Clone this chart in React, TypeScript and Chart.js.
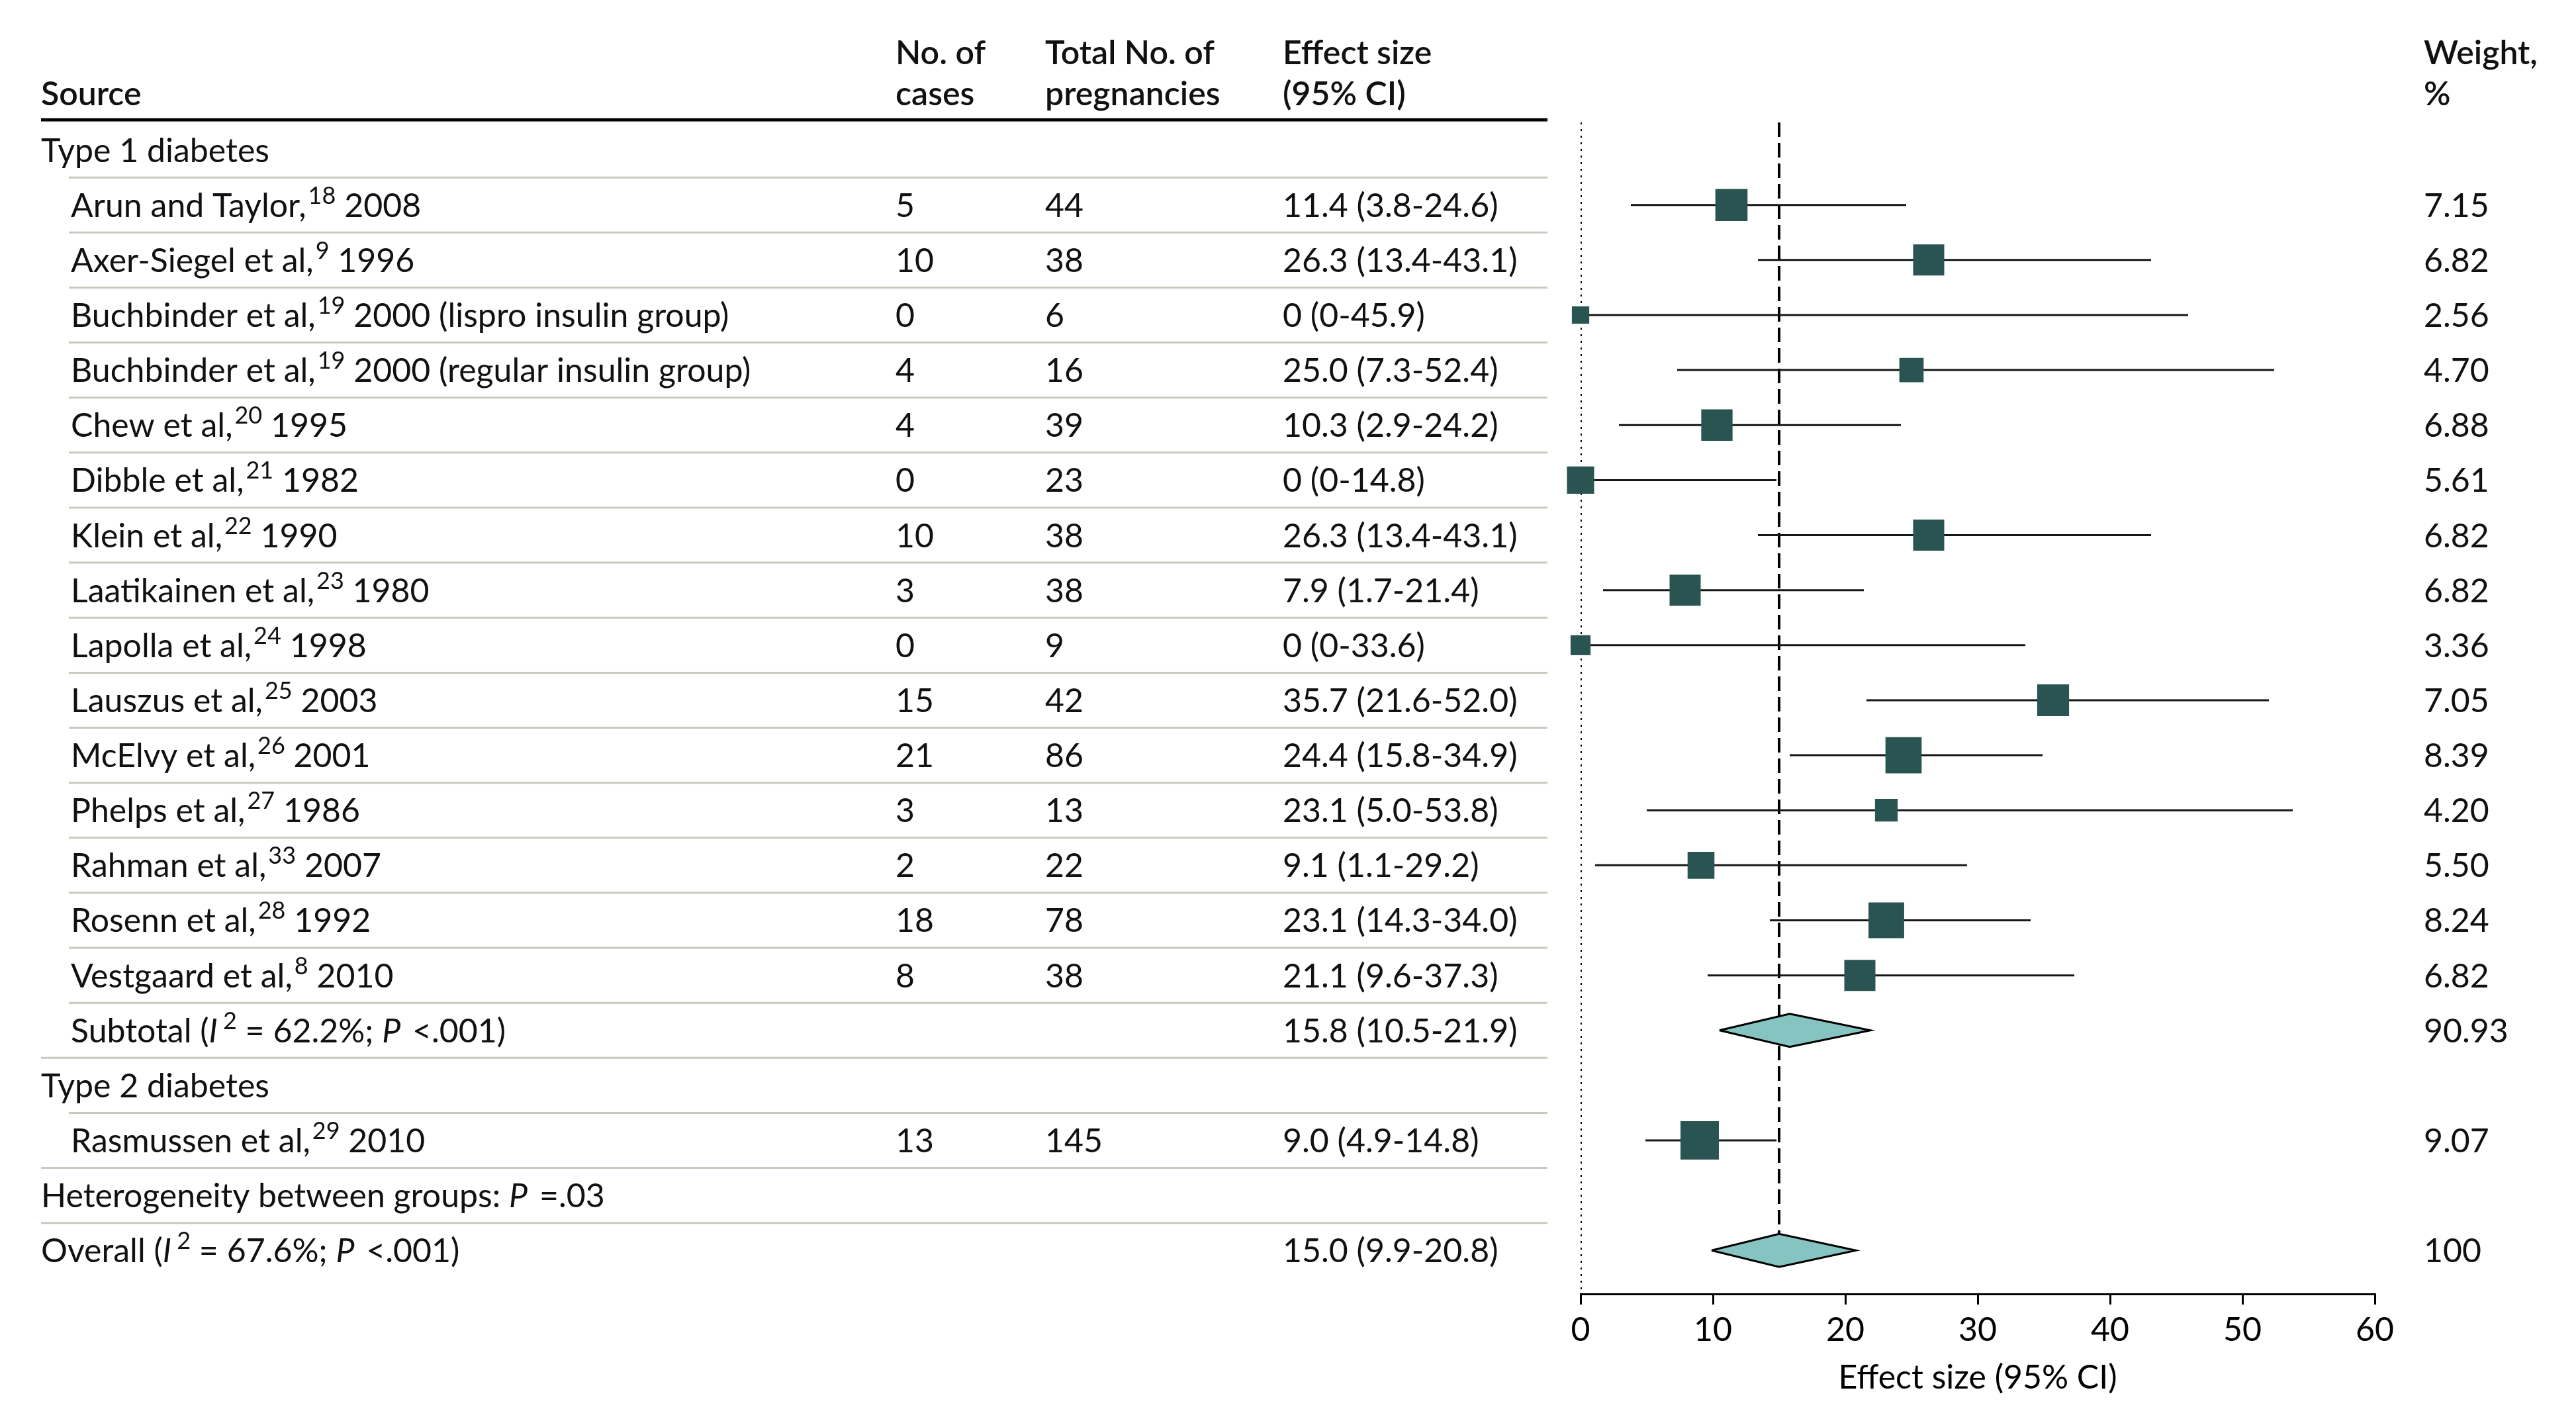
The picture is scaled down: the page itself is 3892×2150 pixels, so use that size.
import React, { useEffect, useRef } from "react";
import { Chart, registerables } from "chart.js";

Chart.register(...registerables);

// ---------------- data ----------------
const studyNames = [
  "Arun and Taylor", "Axer-Siegel et al", "Buchbinder et al", "Buchbinder et al",
  "Chew et al", "Dibble et al", "Klein et al", "Laatikainen et al", "Lapolla et al",
  "Lauszus et al", "McElvy et al", "Phelps et al", "Rahman et al", "Rosenn et al",
  "Vestgaard et al", "Rasmussen et al",
];
const studyRefs = ["18", "9", "19", "19", "20", "21", "22", "23", "24", "25", "26", "27", "33", "28", "8", "29"];
const studyYears = [
  "2008", "1996", "2000 (lispro insulin group)", "2000 (regular insulin group)",
  "1995", "1982", "1990", "1980", "1998", "2003", "2001", "1986", "2007", "1992", "2010", "2010",
];
const studyGroups = [0, 0, 0, 0, 0, 0, 0, 0, 0, 0, 0, 0, 0, 0, 0, 1];
const studyCases = [5, 10, 0, 4, 4, 0, 10, 3, 0, 15, 21, 3, 2, 18, 8, 13];
const studyTotals = [44, 38, 6, 16, 39, 23, 38, 38, 9, 42, 86, 13, 22, 78, 38, 145];
const studyEffects = [11.4, 26.3, 0, 25.0, 10.3, 0, 26.3, 7.9, 0, 35.7, 24.4, 23.1, 9.1, 23.1, 21.1, 9.0];
const studyLower = [3.8, 13.4, 0, 7.3, 2.9, 0, 13.4, 1.7, 0, 21.6, 15.8, 5.0, 1.1, 14.3, 9.6, 4.9];
const studyUpper = [24.6, 43.1, 45.9, 52.4, 24.2, 14.8, 43.1, 21.4, 33.6, 52.0, 34.9, 53.8, 29.2, 34.0, 37.3, 14.8];
const studyWeights = [7.15, 6.82, 2.56, 4.70, 6.88, 5.61, 6.82, 6.82, 3.36, 7.05, 8.39, 4.20, 5.50, 8.24, 6.82, 9.07];

const groupLabels = ["Type 1 diabetes", "Type 2 diabetes"];
const subtotalEffects = [15.8];
const subtotalLower = [10.5];
const subtotalUpper = [21.9];
const subtotalWeights = ["90.93"];
const subtotalI2 = ["62.2%"];
const subtotalP = ["<.001"];

const heterogeneityP = "=.03";
const overallEffect = 15.0;
const overallLower = 9.9;
const overallUpper = 20.8;
const overallWeight = "100";
const overallI2 = "67.6%";
const overallP = "<.001";

const xTicks = [0, 10, 20, 30, 40, 50, 60];
const xTitle = "Effect size (95% CI)";
const headerLabels = [
  ["", "Source"],
  ["No. of", "cases"],
  ["Total No. of", "pregnancies"],
  ["Effect size", "(95% CI)"],
  ["Weight,", "%"],
];

// ---------------- style / layout ----------------
const W = 3892;
const H = 2150;
const FONT = "Lato";
const FS = 50;
const SUP_FS = 36;
const SUP_RAISE = 20;
const TEXT = "#111111";
const SQUARE = "#2a5452";
const DIAMOND = "#86c4c1";
const SEP = "#c6cbbd";
const COL_X = [62, 1353, 1579, 1938, 3662];
const INDENT_X = 107;
const TABLE_RIGHT = 2338;
const DIAMOND_H = 0.3;

type Seg = { t: string; sup?: boolean; it?: boolean };
type Row =
  | { kind: "group"; g: number }
  | { kind: "study"; s: number }
  | { kind: "subtotal"; g: number }
  | { kind: "het" }
  | { kind: "overall" };

const fmt = (v: number) => (v === 0 ? "0" : v.toFixed(1));
const ci = (e: number, l: number, u: number) => `${fmt(e)} (${fmt(l)}-${fmt(u)})`;

// build row list
const rows: Row[] = [];
groupLabels.forEach((_, g) => {
  rows.push({ kind: "group", g });
  const members = studyGroups.map((gg, i) => (gg === g ? i : -1)).filter((i) => i >= 0);
  members.forEach((s) => rows.push({ kind: "study", s }));
  if (members.length > 1) rows.push({ kind: "subtotal", g });
});
rows.push({ kind: "het" });
rows.push({ kind: "overall" });

const studyRow = (s: number) => rows.findIndex((r) => r.kind === "study" && (r as any).s === s);
const subtotalRow = (g: number) => rows.findIndex((r) => r.kind === "subtotal" && (r as any).g === g);
const overallRow = rows.findIndex((r) => r.kind === "overall");

const Y_MIN = -0.5;
const Y_MAX = rows.length - 0.21;

function drawSegs(ctx: CanvasRenderingContext2D, segs: Seg[], x: number, y: number, weight = "normal") {
  let cx = x;
  for (const s of segs) {
    const size = s.sup ? SUP_FS : FS;
    ctx.font = `${s.it ? "italic " : ""}${weight} ${size}px ${FONT}`;
    if (s.sup) cx += 3;
    ctx.fillText(s.t, cx, s.sup ? y - SUP_RAISE : y);
    cx += ctx.measureText(s.t).width + (s.it ? 5 : 0);
  }
}

const tablePlugin = {
  id: "forestTable",
  afterDraw(chart: any) {
    const ctx: CanvasRenderingContext2D = chart.ctx;
    const ys = chart.scales.y;
    const base = (v: number) => ys.getPixelForValue(v) + 0.36 * FS;
    ctx.save();
    ctx.textAlign = "left";
    ctx.textBaseline = "alphabetic";
    ctx.fillStyle = TEXT;

    // header
    headerLabels.forEach((lines, c) => {
      lines.forEach((t, li) => {
        if (!t) return;
        ctx.font = `600 ${FS}px ${FONT}`;
        ctx.fillText(t, COL_X[c], (li === 0 ? 79 : 141) + 0.36 * FS);
      });
    });
    ctx.strokeStyle = "#000";
    ctx.lineWidth = 5;
    ctx.beginPath();
    ctx.moveTo(COL_X[0], 181);
    ctx.lineTo(TABLE_RIGHT, 181);
    ctx.stroke();

    // separators
    ctx.strokeStyle = SEP;
    ctx.lineWidth = 3;
    for (let i = 0; i < rows.length - 1; i++) {
      const nk = rows[i + 1].kind;
      const x0 = nk === "study" || nk === "subtotal" ? INDENT_X - 3 : COL_X[0];
      const yy = ys.getPixelForValue(i + 0.5);
      ctx.beginPath();
      ctx.moveTo(x0, yy);
      ctx.lineTo(TABLE_RIGHT, yy);
      ctx.stroke();
    }

    // rows
    ctx.fillStyle = TEXT;
    rows.forEach((r, i) => {
      const y = base(i);
      if (r.kind === "group") {
        drawSegs(ctx, [{ t: groupLabels[r.g] }], COL_X[0], y);
      } else if (r.kind === "study") {
        const s = r.s;
        drawSegs(ctx, [{ t: `${studyNames[s]},` }, { t: studyRefs[s], sup: true }, { t: ` ${studyYears[s]}` }], INDENT_X, y);
        drawSegs(ctx, [{ t: String(studyCases[s]) }], COL_X[1], y);
        drawSegs(ctx, [{ t: String(studyTotals[s]) }], COL_X[2], y);
        drawSegs(ctx, [{ t: ci(studyEffects[s], studyLower[s], studyUpper[s]) }], COL_X[3], y);
        drawSegs(ctx, [{ t: studyWeights[s].toFixed(2) }], COL_X[4], y);
      } else if (r.kind === "subtotal") {
        const g = r.g;
        drawSegs(
          ctx,
          [{ t: "Subtotal (" }, { t: "I", it: true }, { t: "2", sup: true }, { t: ` = ${subtotalI2[g]}; ` }, { t: "P", it: true }, { t: ` ${subtotalP[g]})` }],
          INDENT_X,
          y
        );
        drawSegs(ctx, [{ t: ci(subtotalEffects[g], subtotalLower[g], subtotalUpper[g]) }], COL_X[3], y);
        drawSegs(ctx, [{ t: subtotalWeights[g] }], COL_X[4], y);
      } else if (r.kind === "het") {
        drawSegs(ctx, [{ t: "Heterogeneity between groups: " }, { t: "P", it: true }, { t: ` ${heterogeneityP}` }], COL_X[0], y);
      } else {
        drawSegs(
          ctx,
          [{ t: "Overall (" }, { t: "I", it: true }, { t: "2", sup: true }, { t: ` = ${overallI2}; ` }, { t: "P", it: true }, { t: ` ${overallP})` }],
          COL_X[0],
          y
        );
        drawSegs(ctx, [{ t: ci(overallEffect, overallLower, overallUpper) }], COL_X[3], y);
        drawSegs(ctx, [{ t: overallWeight }], COL_X[4], y);
      }
    });
    ctx.restore();
  },
};

function buildDatasets() {
  const ds: any[] = [];
  const lineBase = { type: "line", showLine: true, pointRadius: 0, pointHoverRadius: 0, tension: 0, fill: false };
  // null line (dotted)
  ds.push({
    ...lineBase,
    data: [{ x: 0, y: Y_MIN }, { x: 0, y: Y_MAX }],
    borderColor: "#000",
    borderWidth: 4,
    borderDash: [3, 7],
    order: 10,
  });
  // overall effect line (dashed)
  ds.push({
    ...lineBase,
    data: [{ x: overallEffect, y: Y_MIN }, { x: overallEffect, y: overallRow - DIAMOND_H }],
    borderColor: "#000",
    borderWidth: 4,
    borderDash: [22, 9],
    order: 9,
  });
  // whiskers
  studyNames.forEach((_, s) => {
    const r = studyRow(s);
    ds.push({
      ...lineBase,
      data: [{ x: studyLower[s], y: r }, { x: studyUpper[s], y: r }],
      borderColor: "#161616",
      borderWidth: 3,
      order: 5,
    });
  });
  // squares
  ds.push({
    type: "scatter",
    data: studyNames.map((_, s) => ({ x: studyEffects[s], y: studyRow(s) })),
    pointStyle: "rect",
    pointRadius: studyWeights.map((w) => (13.8 + 4.87 * w) / Math.SQRT2),
    pointHoverRadius: studyWeights.map((w) => (13.8 + 4.87 * w) / Math.SQRT2),
    backgroundColor: SQUARE,
    borderColor: SQUARE,
    borderWidth: 0,
    clip: false,
    order: 2,
  });
  // diamonds
  const diamonds: [number, number, number, number][] = [];
  subtotalEffects.forEach((e, g) => diamonds.push([e, subtotalLower[g], subtotalUpper[g], subtotalRow(g)]));
  diamonds.push([overallEffect, overallLower, overallUpper, overallRow]);
  diamonds.forEach(([e, l, u, r]) => {
    ds.push({
      ...lineBase,
      data: [
        { x: l, y: r },
        { x: e, y: r - DIAMOND_H },
        { x: u, y: r },
        { x: e, y: r + DIAMOND_H },
        { x: l, y: r },
      ],
      fill: "shape",
      backgroundColor: DIAMOND,
      borderColor: "#000",
      borderWidth: 3,
      borderJoinStyle: "miter",
      clip: false,
      order: 1,
    });
  });
  return ds;
}

export default function App() {
  const ref = useRef<HTMLCanvasElement>(null);
  useEffect(() => {
    document.body.style.margin = "0";
    let chart: Chart | null = null;
    let cancelled = false;
    const make = () => {
      if (cancelled || !ref.current) return;
      chart = new Chart(ref.current, {
        type: "scatter",
        data: { datasets: buildDatasets() },
        plugins: [tablePlugin],
        options: {
          animation: false,
          responsive: false,
          devicePixelRatio: 1,
          events: [],
          layout: { padding: { left: 2388, right: W - 3588, top: 185, bottom: 0 } },
          plugins: { legend: { display: false }, tooltip: { enabled: false } },
          scales: {
            x: {
              type: "linear",
              min: xTicks[0],
              max: xTicks[xTicks.length - 1],
              afterBuildTicks: (s: any) => {
                s.ticks = xTicks.map((v) => ({ value: v }));
              },
              afterFit: (s: any) => {
                s.height = 195;
              },
              grid: { display: true, drawOnChartArea: false, drawTicks: true, tickLength: 16, color: "#000", lineWidth: 3 },
              border: { display: true, color: "#000", width: 3 },
              ticks: { color: "#000", padding: 9, font: { family: FONT, size: FS }, callback: (v: any) => String(v) },
              title: { display: true, text: xTitle, color: "#000", font: { family: FONT, size: FS }, padding: { top: 0, bottom: 38 } },
            },
            y: { type: "linear", display: false, reverse: true, min: Y_MIN, max: Y_MAX },
          },
        } as any,
      });
    };
    (document as any).fonts ? (document as any).fonts.load(`${FS}px ${FONT}`).then(make, make) : make();
    return () => {
      cancelled = true;
      if (chart) chart.destroy();
    };
  }, []);
  return (
    <div style={{ position: "absolute", left: 0, top: 0, width: W, height: H, background: "#fff" }}>
      <canvas ref={ref} width={W} height={H} style={{ display: "block", width: W, height: H }} />
    </div>
  );
}
